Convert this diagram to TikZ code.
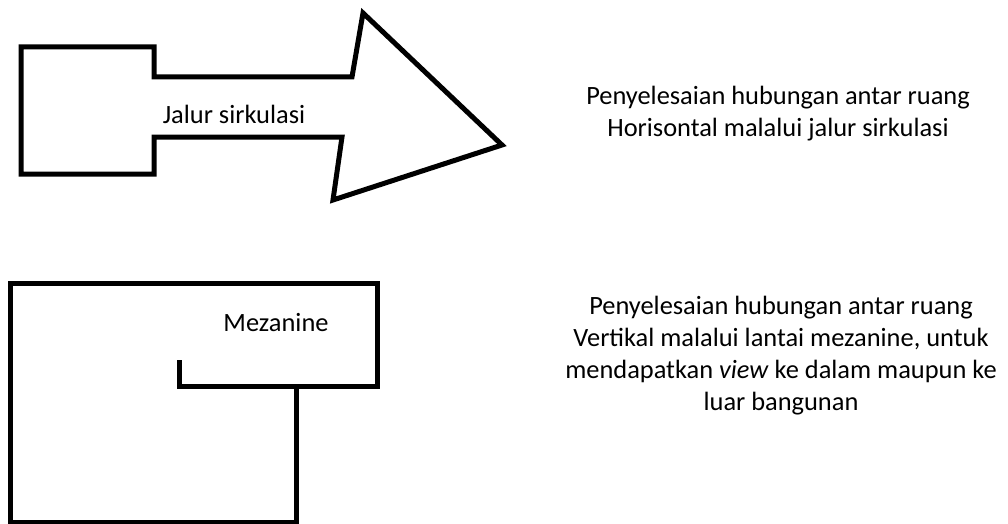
\documentclass[tikz,border=0pt]{standalone}
\usepackage{fontspec}
\setmainfont{Carlito}
\begin{document}
\begin{tikzpicture}[x=1pt,y=-1pt,
  wall/.style={line width=5pt,line join=miter,draw=black},
  label/.style={font=\fontsize{26.4}{32}\selectfont,text=black,inner sep=0pt},
  note/.style={label,align=center,fill=white,inner sep=6pt}]
  \useasboundingbox[fill=white] (0,0) rectangle (1008,524);

  % circulation route: room with an arrow-shaped corridor
  \draw[wall,fill=white] (21,47) -- (154,47) -- (154,77) -- (352,77) -- (363,13)
    -- (502,145) -- (333,200) -- (342,137) -- (154,137) -- (154,174)
    -- (21,174) -- cycle;
  \node[label,anchor=base] (jalur) at (234,123) {Jalur sirkulasi};

  % section with mezzanine floor
  \fill[white] (10,283) rectangle (377,386);
  \fill[white] (10,386) rectangle (296,522);
  \draw[wall] (179,360) -- (179,386) -- (377,386) -- (377,283) -- (10,283)
    -- (10,522) -- (296,522) -- (296,386);
  \node[label,anchor=base] (mezanine) at (276,331) {Mezanine};

  % explanations
  \node[note] (horisontal) at (778,114)
    {Penyelesaian hubungan antar ruang\\Horisontal malalui jalur sirkulasi};
  \node[note] (vertikal) at (781,356)
    {Penyelesaian hubungan antar ruang\\Vertikal malalui lantai mezanine, untuk\\mendapatkan \textit{view} ke dalam maupun ke\\luar bangunan};
\end{tikzpicture}
\end{document}
